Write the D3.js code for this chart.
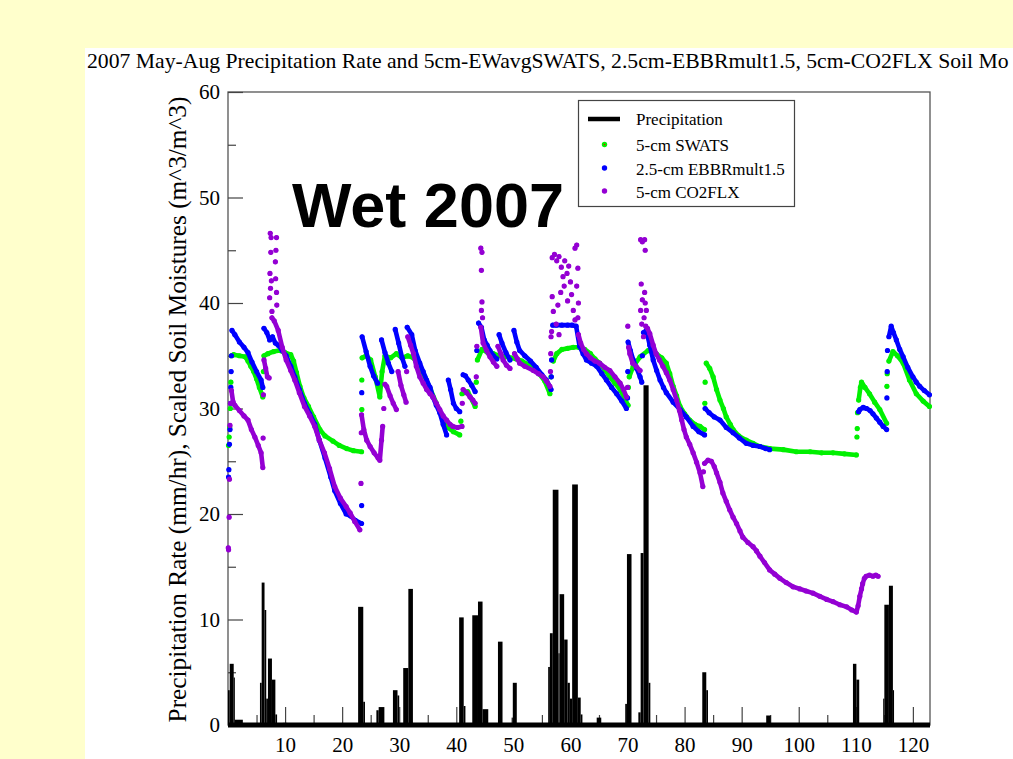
<!DOCTYPE html>
<html>
<head>
<meta charset="utf-8">
<script src="https://cdn.jsdelivr.net/npm/d3@7/dist/d3.min.js"></script>
<style>
  html, body { margin: 0; padding: 0; background: #ffffcc; }
  svg { display: block; }
</style>
</head>
<body>
<svg id="chart" width="1013" height="759"></svg>
<script>
// ---- Data -------------------------------------------------------------
// Day of period (since 1 May 2007) and value. null breaks a trace.

const xTicksMajor = [10, 20, 30, 40, 50, 60, 70, 80, 90, 100, 110, 120];
const xTicksMinor = [5, 15, 25, 35, 45, 55, 65, 75, 85, 95, 105, 115];
const yTicksMajor = [0, 10, 20, 30, 40, 50, 60];
const yTicksMinor = [5, 15, 25, 35, 45, 55];

// Precipitation rate (mm/hr): step pieces [start day, end day, rate]
const precipStart = [0.0, 0.3, 1.0, 1.2, 5.6, 5.9, 6.4, 6.7, 7.0, 7.7, 8.3, 9.6,
  22.8, 23.7, 26.0, 26.4, 28.9, 29.7, 30.7, 31.6, 40.5, 41.3, 42.8, 43.8, 44.6,
  47.3, 49.7, 49.9, 56.1, 56.4, 56.9, 57.9, 58.1, 58.9, 59.5, 59.9, 60.3, 61.3, 61.8,
  64.6, 69.6, 69.9, 71.9, 72.3, 72.8, 73.7, 83.1, 83.8, 90.5, 94.3, 109.5, 110.1,
  114.8, 115.0, 115.8, 116.5];
const precipEnd = [0.3, 1.0, 1.2, 2.6, 5.9, 6.4, 6.7, 7.0, 7.7, 8.3, 8.6, 10.4,
  23.7, 24.0, 26.4, 27.4, 29.7, 30.0, 31.6, 32.4, 41.3, 41.6, 43.8, 44.6, 45.6,
  48.1, 49.9, 50.6, 56.4, 56.9, 57.9, 58.1, 58.9, 59.5, 59.9, 60.3, 61.3, 61.8, 62.1,
  65.4, 69.9, 70.7, 72.3, 72.8, 73.7, 74.0, 83.8, 84.1, 91.2, 95.1, 110.1, 110.6,
  115.0, 115.8, 116.5, 116.7];
const precipRate = [3.3, 5.8, 4.5, 0.5, 4.0, 13.5, 10.9, 2.5, 6.3, 4.3, 1.0, 0.2,
  11.2, 2.2, 1.4, 1.7, 3.3, 2.8, 5.4, 12.9, 10.2, 1.8, 10.4, 11.7, 1.5,
  7.9, 0.7, 4.0, 5.5, 8.7, 22.3, 6.8, 12.4, 8.1, 4.0, 2.5, 22.8, 2.6, 1.0,
  0.7, 2.0, 16.2, 1.2, 16.3, 32.2, 4.0, 5.0, 3.3, 0.15, 0.9, 5.8, 4.3,
  2.5, 11.4, 13.2, 3.3];

// 5-cm SWATS soil moisture
const swats = [
  [0.1,26.5],null,[0.2,27.3],null,[0.3,28.2],null,[0.4,30.0],null,[0.5,32.5],null,
  [0.6,35.0],[1,35.1],[2,35.0],[3,34.9],[3.5,34.5],[4,34.0],[4.5,33.5],[5,32.8],[5.5,32.0],[6.1,31.1],null,
  [6.2,33.5],null,
  [6.3,35.0],[7,35.2],[8,35.4],[9,35.5],[10,35.3],[11,35.1],[11.5,34.5],[12,33.4],[12.6,32.1],[13.3,31.0],
  [14.1,30.2],[15,29.2],[16.1,28.0],[17,27.4],[18.4,26.9],[19.5,26.5],[20.8,26.2],[22,26.0],[23.4,25.9],null,
  [23.45,29.9],null,[23.45,32.7],null,
  [23.5,34.8],[24.2,35.0],[25,34.6],[25.8,33.0],[26.6,31.1],[27.0,33.5],[27.5,35.0],[28.5,34.8],[29.5,35.2],
  [30.5,34.8],[31.5,35.0],[32.5,34.8],[33.5,34.0],[34.5,33.0],[35.5,31.8],[36.5,30.5],[37.5,29.2],[38.5,28.2],
  [39.5,27.8],[40.6,27.5],null,
  [40.8,28.8],null,
  [41.0,31.4],[42.0,31.6],[43.3,30.2],null,
  [43.5,32.5],null,
  [43.7,34.6],[44.5,35.6],[45.5,35.3],[46.5,35.2],[47.5,35.0],[48.5,34.9],[49.5,34.8],[50.5,34.7],[51.5,34.5],
  [52.5,34.2],[53.5,33.8],[54.5,33.3],[55.5,32.6],[56.4,31.4],null,
  [56.6,33.0],null,
  [57.0,34.5],[57.6,35.2],[58.5,35.6],[59.5,35.7],[60.5,35.8],[61.5,35.8],[62.5,35.6],[63.5,35.2],[64.3,34.7],
  [65.1,34.3],[66,33.7],[66.9,33.0],[67.8,32.4],[68.7,31.8],[70.1,30.3],null,
  [70.15,32.0],null,
  [70.3,33.0],[71,34.0],[72.2,34.9],[73.6,35.5],[75,35.2],[76,34.8],[76.8,34.3],[77.4,33.3],[78,32.1],[78.6,31.2],
  [79.2,30.2],[80,29.5],[80.9,28.9],[81.8,28.5],[82.7,28.3],[83.5,28.0],null,
  [83.55,30.5],null,[83.6,32.5],null,
  [83.8,34.3],[84.4,33.8],[85,33.0],[85.6,31.8],[86.2,30.8],[86.8,30.0],[87.3,29.2],[88,28.5],[88.5,28.0],
  [89.5,27.4],[90.8,27.0],[92,26.7],[93.2,26.4],[95,26.2],[97.3,26.1],[99.6,25.9],[102,25.9],[104,25.8],
  [106,25.8],[108,25.7],[110.1,25.6],null,
  [110.2,27.3],null,[110.25,28.1],null,[110.3,29.6],null,
  [110.5,30.8],[110.8,32.0],[111,32.5],[111.6,32.0],[112.4,31.4],[113.3,30.6],[114.2,29.9],[115.4,28.6],null,
  [115.45,32.1],null,[115.5,33.3],null,
  [115.8,34.5],[116.5,35.4],[117.3,35.0],[118.3,34.3],[119.4,32.7],[120.6,31.4],[121.8,30.7],[122.9,30.2]
];

// 2.5-cm EBBR soil moisture, scaled by 1.5
const ebbr = [
  [0.1,23.5],null,[0.15,24.2],null,[0.25,26.6],null,[0.35,28.0],null,[0.45,30.5],null,[0.5,32.0],null,
  [0.55,33.5],null,[0.6,35.0],null,
  [0.7,37.4],[1.2,37.0],[2,36.3],[2.8,35.8],[3.5,35.3],[4.2,34.4],[5,33.5],[5.8,32.7],[6.1,32.0],null,
  [6.3,37.6],[6.8,37.2],[7.3,36.5],[7.8,36.8],[8.3,36.2],[8.8,36.0],[9.5,35.5],[10.2,35.0],[11,34.0],[11.7,33.0],
  [12.5,31.8],[13.4,30.5],[14.3,29.5],[15.2,28.5],[16,27.0],[17,25.3],[18,23.5],[18.7,22.2],[19.7,21.0],
  [20.7,20.0],[21.5,19.8],[22.3,19.4],[23.4,19.1],null,
  [23.42,20.8],null,[23.44,31.5],null,
  [23.5,36.8],[24.2,35.4],[24.9,34.0],[25.5,33.1],[26.2,32.4],null,
  [26.9,36.5],[27.5,35.3],[28.1,34.3],[28.7,33.5],null,
  [29.3,37.5],[29.9,36.2],[30.5,34.8],[31.0,34.0],null,
  [31.4,37.7],[32.2,37.0],[32.8,35.5],[33.6,34.3],[34.2,33.5],[34.8,32.7],[35.4,32.0],[35.9,31.1],[36.5,30.3],
  [37.1,29.6],[37.7,28.5],[38.3,27.5],null,
  [38.6,32.7],[39,31.8],[39.5,30.5],[40,30.0],[40.6,29.7],null,
  [41.2,33.2],[41.6,33.1],[42.1,32.7],[42.7,32.2],[43.3,31.6],null,
  [43.6,35.5],null,
  [43.9,38.1],[44.4,37.7],[44.9,36.5],[45.4,36.0],[45.9,35.5],[46.5,35.0],[47.1,34.7],null,
  [47.5,37.0],[48,36.2],[48.7,35.3],[49.4,34.6],null,
  [50.1,37.4],[50.6,36.3],[51.1,35.5],[52,35.0],[53,34.5],[54,33.9],[55,33.2],[55.8,32.7],[56.6,31.8],null,
  [56.65,33.0],null,[56.7,34.6],null,
  [56.9,37.9],[57.5,37.9],[58.5,37.9],[59.5,37.9],[60.3,37.9],[61,37.8],[61.6,35.9],[62.2,35.2],[62.8,34.6],
  [63.7,34.3],[64.6,34.0],[65.5,33.3],[66.3,32.7],[67.2,32.0],[68.1,31.4],[69,30.7],[69.8,30.0],null,
  [70.0,31.0],null,[70.05,33.5],null,
  [70.1,36.3],[70.5,35.5],[71,34.6],[71.6,33.8],[72.2,33.0],[72.5,32.5],null,
  [72.6,35.0],null,
  [72.8,37.2],[73.3,37.4],[73.9,36.0],[74.5,34.6],[75.1,33.6],[75.7,32.7],[76.3,32.0],[76.8,31.5],[78,30.6],
  [79.2,29.9],[80.3,29.2],[81.5,28.3],[82.5,27.8],[83.5,27.5],null,
  [83.6,30.0],[84.3,29.6],[85.2,29.2],[86.2,28.9],[87.3,28.2],[88.5,27.7],[89.6,27.2],[90.8,26.7],[92,26.5],
  [93.2,26.4],[94.2,26.2],[94.9,26.1],null,
  [110.5,29.7],[110.7,29.9],[111.3,30.1],[111.9,30.0],[112.5,29.8],[113,29.5],[113.6,29.1],[114.2,28.7],
  [114.8,28.3],[115.4,28.0],null,
  [115.45,31.0],null,[115.5,33.5],null,[115.55,35.5],null,
  [115.8,36.8],[116.2,37.8],[116.6,37.2],[117.1,36.5],[117.7,35.6],[118.3,34.9],[119.1,33.9],[120,33.0],
  [120.6,32.5],[121.2,32.1],[122,31.7],[122.9,31.3]
];

// 5-cm CO2FLX soil moisture
const co2flx = [
  [0.05,16.8],null,[0.1,16.6],null,[0.2,19.7],null,[0.25,23.3],null,[0.35,28.4],null,[0.45,30.5],null,
  [0.6,31.7],[0.9,30.6],[1.2,30.3],[2,29.8],[2.8,29.3],[3.5,28.9],[4.1,28.0],[4.7,27.3],[5.3,26.5],[5.8,25.8],[6.1,24.4],null,
  [6.15,27.2],null,[6.2,31.3],null,
  [6.3,34.6],[6.6,33.8],[6.9,33.0],[7.2,32.9],null,
  [7.4,46.6],null,[7.55,46.2],null,[8.5,46.2],null,[8.4,45.0],null,[8.3,43.9],null,[7.5,44.8],null,
  [7.35,42.8],null,[7.6,42.1],null,[8.35,42.3],null,[7.45,41.4],null,[8.5,41.0],null,[7.3,40.5],null,
  [8.55,39.8],null,[7.7,39.2],null,
  [7.7,38.6],[8.1,38.3],[8.8,37.4],[9.5,35.8],[10.2,34.6],[11,33.6],[11.7,32.7],[12.5,31.5],[13.4,30.2],
  [14.3,29.3],[15.2,28.3],[16,27.0],[16.9,25.8],[17.8,24.3],[18.7,22.6],[19.7,21.5],[20.7,20.7],[21.4,20.1],
  [22.2,19.3],[23.1,18.5],null,
  [23.3,22.9],null,[23.35,27.7],null,
  [23.4,29.4],[23.8,28.0],[24.3,27.0],[24.9,26.4],[25.6,25.8],[26.3,25.3],[26.6,25.1],[26.9,27.0],[27.1,28.3],null,
  [27.3,30.0],null,
  [27.5,32.3],[27.8,32.1],[28.4,31.2],[28.95,30.5],[29.5,29.9],null,
  [29.8,33.5],[30.3,32.2],[30.8,31.3],[31.2,30.6],null,
  [31.3,33.5],null,
  [31.5,36.8],[32,36.0],[32.5,35.2],[33,34.0],[33.6,33.0],[34.2,32.4],[34.8,31.8],[35.4,31.4],[35.9,31.1],
  [36.5,30.5],[37.1,29.9],[37.7,29.3],[38.3,28.9],[38.9,28.5],[39.4,28.3],[40.2,28.2],[41,28.3],null,
  [41.05,30.5],null,
  [41.2,31.8],[41.8,31.5],[42.4,31.1],[42.9,30.8],[43.3,30.5],null,
  [43.5,33.0],null,[43.6,35.9],null,
  [44.3,45.2],null,[44.5,44.8],null,[44.4,43.1],null,[44.5,40.1],null,[44.4,39.3],null,[44.6,38.6],null,
  [44.3,37.7],[44.7,36.2],[45.3,35.5],[45.9,34.9],[46.5,34.4],[47.1,34.0],null,
  [47.3,35.9],[47.8,35.2],[48.2,34.6],[48.8,34.1],[49.4,33.8],null,
  [50.2,35.2],[50.7,34.7],[51.1,34.3],[52,34.0],[53.5,33.6],[54.4,33.3],[55.2,33.0],[55.8,32.6],[56.4,32.1],null,
  [56.5,33.5],null,[56.55,35.2],null,[56.6,36.8],null,
  [56.8,44.3],null,[57.2,44.6],null,[57.6,44.0],null,[58.0,44.4],null,[58.4,43.4],null,[58.7,42.5],null,
  [59.0,44.0],null,[59.4,42.8],null,[59.7,43.5],null,[60.0,42.0],null,[60.8,45.2],null,[61.1,45.5],null,
  [61.3,43.3],null,[56.8,40.6],null,[57.0,39.2],null,[57.8,39.8],null,[58.3,41.0],null,[58.9,41.6],null,
  [59.5,40.2],null,[60.2,40.8],null,[60.5,39.3],null,[61.1,41.6],null,[61.4,40.0],null,[57.5,38.0],null,
  [60.8,38.4],null,[61.3,38.6],null,[56.7,37.3],null,[58.0,37.0],null,
  [61.4,37.0],[61.8,36.2],[62.3,35.6],[62.8,35.2],[63.5,34.8],[64.3,34.5],[65.1,34.3],[66,33.9],[66.9,33.6],
  [67.8,33.0],[68.7,32.4],[69.3,31.8],[69.8,31.1],null,
  [70.0,32.0],null,[70.05,37.8],null,
  [70.2,35.8],[70.4,35.2],[70.9,34.3],[71.5,34.0],[72.2,33.6],null,
  [72.3,46.0],null,[72.6,45.8],null,[73.0,46.0],null,[73.1,45.0],null,[72.4,41.8],null,[73.0,41.0],null,
  [72.6,40.3],null,[73.1,40.0],null,[72.3,39.3],null,[72.9,38.6],null,[73.3,39.3],null,[72.5,38.0],null,
  [73.2,37.8],null,[72.8,36.8],null,
  [73.5,37.6],[73.9,37.1],[74.5,36.0],[75,35.2],[75.6,34.6],[76.2,34.0],[76.8,33.4],[77.4,32.7],[78,31.8],
  [78.6,30.8],[79.1,29.8],[79.5,28.9],[79.9,28.0],[80.3,27.3],[80.9,26.6],[81.5,25.8],[82.1,24.9],[82.7,23.9],
  [83.2,22.6],null,
  [83.3,24.0],null,
  [83.5,24.8],[84.1,25.1],[84.7,25.0],[85.2,24.5],[85.6,23.9],[86.2,23.0],[86.7,22.0],[87.3,21.2],[87.9,20.4],
  [88.5,19.7],[89.1,19.1],[89.7,18.4],[90.2,17.8],[91.1,17.3],[92,16.9],[92.6,16.5],[93.2,16.0],[94,15.4],
  [94.9,14.7],[95.8,14.3],[96.7,13.9],[97.8,13.5],[99,13.1],[100.2,12.9],[101.3,12.7],[102.5,12.5],[103.7,12.2],
  [104.9,11.9],[106,11.7],[107.2,11.4],[108.4,11.2],[109.3,10.9],[110.1,10.7],[110.4,11.3],[110.7,12.2],
  [111,12.9],[111.2,13.4],[111.5,13.9],[111.8,14.1],[112.4,14.2],[113,14.1],[113.5,14.2],[113.9,14.1]
];

const seriesNames = ["5-cm SWATS", "2.5-cm EBBRmult1.5", "5-cm CO2FLX"];
const seriesColors = ["#00f000", "#0000ff", "#9400d3"];
const seriesData = [swats, ebbr, co2flx];

// ---- Layout -----------------------------------------------------------
const svg = d3.select("#chart");
const serif = "'Liberation Serif', 'Times New Roman', serif";

const plot = { left: 228, right: 930, top: 92, bottom: 725 };
const x = d3.scaleLinear().domain([0, 123]).range([plot.left, plot.right]);
const y = d3.scaleLinear().domain([0, 60]).range([plot.bottom, plot.top]);

// page panels
svg.append("rect").attr("x", 0).attr("y", 0).attr("width", 1013).attr("height", 759).attr("fill", "#ffffcc");
svg.append("rect").attr("x", 85).attr("y", 48).attr("width", 928).attr("height", 711).attr("fill", "#ffffff");

// title (runs past the right edge of the page)
svg.append("text")
  .attr("x", 87).attr("y", 68)
  .attr("font-family", serif).attr("font-size", 21.7)
  .text("2007 May-Aug Precipitation Rate and 5cm-EWavgSWATS, 2.5cm-EBBRmult1.5, 5cm-CO2FLX Soil Mo");

// frame
svg.append("rect")
  .attr("x", plot.left).attr("y", plot.top)
  .attr("width", plot.right - plot.left).attr("height", plot.bottom - plot.top)
  .attr("fill", "none").attr("stroke", "#555").attr("stroke-width", 1.3);

// ---- Axes ---------------------------------------------------------------
svg.append("g").attr("transform", `translate(${plot.left},0)`)
  .call(d3.axisLeft(y).tickValues(yTicksMajor).tickSize(-15).tickPadding(8).tickFormat(d3.format("d")));
svg.append("g").attr("transform", `translate(${plot.left},0)`)
  .call(d3.axisLeft(y).tickValues(yTicksMinor).tickSize(-8).tickFormat(""));

svg.append("g").attr("transform", `translate(0,${plot.bottom})`)
  .call(d3.axisBottom(x).tickValues(xTicksMajor).tickSize(-18).tickPadding(12).tickFormat(d3.format("d")));
svg.append("g").attr("transform", `translate(0,${plot.bottom})`)
  .call(d3.axisBottom(x).tickValues(xTicksMinor).tickSize(-10).tickFormat(""));

svg.selectAll(".domain").remove();
svg.selectAll(".tick line").attr("stroke", "#444").attr("stroke-width", 1.2);
svg.selectAll(".tick text").attr("font-family", serif).attr("font-size", 21).attr("fill", "#000");

// y-axis title
svg.append("text")
  .attr("transform", `translate(186,${(plot.top + plot.bottom) / 2 + 1}) rotate(-90)`)
  .attr("text-anchor", "middle")
  .attr("font-family", serif).attr("font-size", 25.3)
  .text("Precipitation Rate (mm/hr), Scaled Soil Moistures (m^3/m^3)");

// ---- Precipitation bars ---------------------------------------------------
const bars = precipStart.map((s, i) => ({ s, e: precipEnd[i], v: precipRate[i] }));
svg.append("g").selectAll("rect").data(bars).join("rect")
  .attr("x", d => x(d.s))
  .attr("width", d => Math.max(1, x(d.e) - x(d.s)))
  .attr("y", d => y(d.v))
  .attr("height", d => y(0) - y(d.v))
  .attr("fill", "#000");

// zero line of the precipitation trace
svg.append("line")
  .attr("x1", x(0)).attr("x2", x(123)).attr("y1", y(0)).attr("y2", y(0))
  .attr("stroke", "#000").attr("stroke-width", 5);

// ---- Soil moisture traces ------------------------------------------------
const line = d3.line()
  .defined(d => d !== null)
  .x(d => x(d[0])).y(d => y(d[1]));

seriesData.forEach((data, i) => {
  const g = svg.append("g");
  g.append("path")
    .attr("d", line(data))
    .attr("fill", "none")
    .attr("stroke", seriesColors[i])
    .attr("stroke-width", 4.6)
    .attr("stroke-linejoin", "round")
    .attr("stroke-linecap", "round");
  g.selectAll("circle").data(data.filter(d => d !== null)).join("circle")
    .attr("cx", d => x(d[0])).attr("cy", d => y(d[1]))
    .attr("r", 2.6)
    .attr("fill", seriesColors[i]);
});

// ---- Annotation -------------------------------------------------------------
svg.append("text")
  .attr("x", 292).attr("y", 227)
  .attr("font-family", "'Liberation Sans', Arial, sans-serif")
  .attr("font-weight", "bold").attr("font-size", 63)
  .text("Wet 2007");

// ---- Legend ------------------------------------------------------------------
const legend = svg.append("g");
legend.append("rect")
  .attr("x", 578.5).attr("y", 100.5).attr("width", 216).attr("height", 106)
  .attr("fill", "#fff").attr("stroke", "#444").attr("stroke-width", 1.2);
legend.append("line")
  .attr("x1", 588).attr("x2", 620).attr("y1", 119).attr("y2", 119)
  .attr("stroke", "#000").attr("stroke-width", 4.5);
legend.append("text")
  .attr("x", 636).attr("y", 125)
  .attr("font-family", serif).attr("font-size", 17)
  .text("Precipitation");
const rowY = [144.5, 168, 191];
const rowBase = [150.5, 174.5, 198];
seriesNames.forEach((name, i) => {
  legend.append("circle").attr("cx", 604.5).attr("cy", rowY[i]).attr("r", 2.7).attr("fill", seriesColors[i]);
  legend.append("text")
    .attr("x", 636).attr("y", rowBase[i])
    .attr("font-family", serif).attr("font-size", 17)
    .text(name);
});
legend.append("circle").attr("cx", 604.5).attr("cy", rowY[0]).attr("r", 0.8).attr("fill", "#ff0000");
</script>
</body>
</html>
